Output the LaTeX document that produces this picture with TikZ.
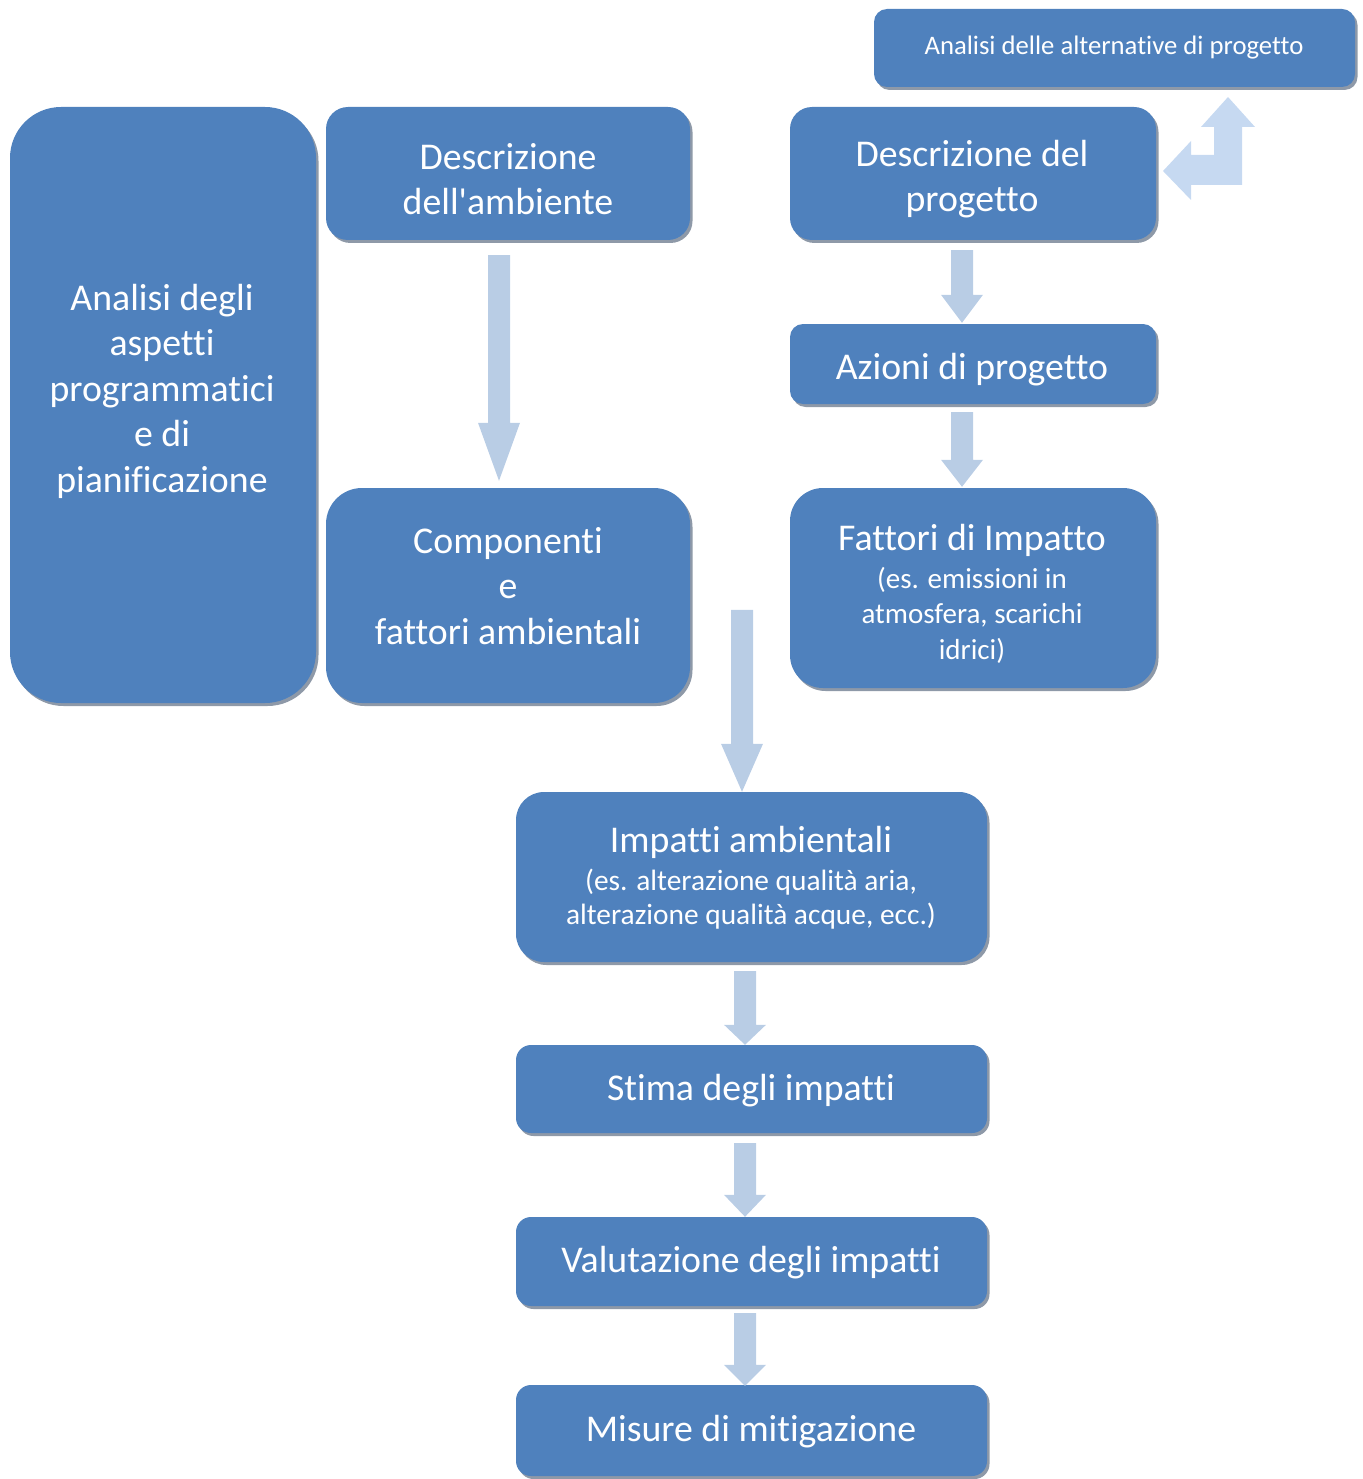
\documentclass[tikz,border=0pt]{standalone}
\usepackage{fontspec}
\setmainfont{Carlito}[Ligatures={TeXOff,CommonOff}]
\usetikzlibrary{calc,shadows}

\definecolor{boxblue}{HTML}{4F81BD}
\definecolor{arrowblue}{HTML}{B9CDE5}
\definecolor{bentblue}{HTML}{C6D9F1}
\definecolor{shadowgray}{HTML}{8E99A8}

\newcommand{\bigtxt}{\fontsize{37.8}{45.5}\selectfont}
\newcommand{\subtxt}{\fontsize{29}{35.5}\selectfont}
\newcommand{\subtxtb}{\fontsize{29.4}{34.5}\selectfont}
\newcommand{\toptxt}{\fontsize{26.7}{32}\selectfont}

% vertical block arrow: start point, tip point, head length (pt)
\newcommand{\blockarrow}[3]{%
  \fill[arrowfill] let \p1=(#1), \p2=(#2) in
    (\x2-11pt,\y1) -- (\x2-11pt,\y2+#3pt) -- (\x2-21pt,\y2+#3pt) -- (\x2,\y2)
    -- (\x2+21pt,\y2+#3pt) -- (\x2+11pt,\y2+#3pt) -- (\x2+11pt,\y1) -- cycle;}

\begin{document}
\begin{tikzpicture}[x=1pt,y=-1pt,
  box/.style={rectangle, fill=boxblue, inner sep=0pt,
    drop shadow={shadow xshift=2.5pt, shadow yshift=-3pt, fill=shadowgray, opacity=1}},
  txt/.style={text=white, align=center, inner sep=0pt},
  arrowfill/.style={fill=arrowblue}]
\useasboundingbox (0,0) rectangle (1362,1479);

% boxes
\node[box, minimum width=306pt, minimum height=596pt, rounded corners=51pt] (plan) at (163,405) {};
\node[box, minimum width=364pt, minimum height=133pt, rounded corners=22pt] (descAmb) at (508,173.5) {};
\node[box, minimum width=364pt, minimum height=215pt, rounded corners=36pt] (comp) at (508,595.5) {};
\node[box, minimum width=481pt, minimum height=78pt, rounded corners=13pt] (alt) at (1114.5,48) {};
\node[box, minimum width=366pt, minimum height=133pt, rounded corners=22pt] (descProg) at (973,173.5) {};
\node[box, minimum width=366pt, minimum height=80pt, rounded corners=13pt] (azioni) at (973,364) {};
\node[box, minimum width=366pt, minimum height=200pt, rounded corners=33pt] (fattori) at (973,588) {};
\node[box, minimum width=471pt, minimum height=170pt, rounded corners=28pt] (impatti) at (751.5,877) {};
\node[box, minimum width=471pt, minimum height=88pt, rounded corners=15pt] (stima) at (751.5,1089) {};
\node[box, minimum width=471pt, minimum height=89pt, rounded corners=15pt] (valut) at (751.5,1261.5) {};
\node[box, minimum width=471pt, minimum height=91pt, rounded corners=15pt] (misure) at (751.5,1430.5) {};

% labels
\node[txt, font=\bigtxt] (tPlan) at (162,391) {Analisi degli\\aspetti\\programmatici\\e di\\pianificazione};
\node[txt, font=\bigtxt] (tDescAmb) at (508,179) {Descrizione\\dell'ambiente};
\node[txt, font=\bigtxt] (tComp) at (508,586) {Componenti\\e\\fattori ambientali};
\node[txt, font=\toptxt] (tAlt) at (1114,48) {Analisi delle alternative di progetto};
\node[txt, font=\bigtxt] (tDescProg) at (972,179) {Descrizione del\\progetto};
\node[txt, font=\bigtxt] (tAzioni) at (972,370) {Azioni di progetto};
\node[txt, font=\bigtxt] (tFattori) at (972,540) {Fattori di Impatto};
\node[txt, font=\subtxt] (tFattoriSub) at (972,615) {(es. emissioni in\\atmosfera, scarichi\\idrici)};
\node[txt, font=\bigtxt] (tImpatti) at (751,842) {Impatti ambientali};
\node[txt, font=\subtxtb] (tImpattiSub) at (751,899) {(es. alterazione qualità aria,\\alterazione qualità acque, ecc.)};
\node[txt, font=\bigtxt] (tStima) at (751,1091) {Stima degli impatti};
\node[txt, font=\bigtxt] (tValut) at (751,1263) {Valutazione degli impatti};
\node[txt, font=\bigtxt] (tMisure) at (751,1432) {Misure di mitigazione};

% block arrows between boxes
\blockarrow{$(descAmb.south)+(-9,15)$}{$(comp.north)+(-9,-7)$}{58}
\blockarrow{$(impatti.north)+(-9.5,-182)$}{$(impatti.north)+(-9.5,0)$}{48}
\blockarrow{$(descProg.south)+(-11,10)$}{$(azioni.north)+(-11,-1)$}{28}
\blockarrow{$(azioni.south)+(-11,8)$}{$(fattori.north)+(-11,-1)$}{27}
\blockarrow{$(impatti.south)+(-6.5,9)$}{$(stima.north)+(-6.5,0)$}{20}
\blockarrow{$(stima.south)+(-6.5,10)$}{$(valut.north)+(-6.5,0)$}{22}
\blockarrow{$(valut.south)+(-6.5,7)$}{$(misure.north)+(-6.5,1)$}{21}

% bent two-way arrow between project description and alternatives
\fill[bentblue] (1228,97) -- (1255,127) -- (1242,127) -- (1242,185) -- (1191,185)
  -- (1191,200) -- (1163,171) -- (1191,141) -- (1191,155) -- (1214,155)
  -- (1214,127) -- (1201,127) -- cycle;
\end{tikzpicture}
\end{document}
